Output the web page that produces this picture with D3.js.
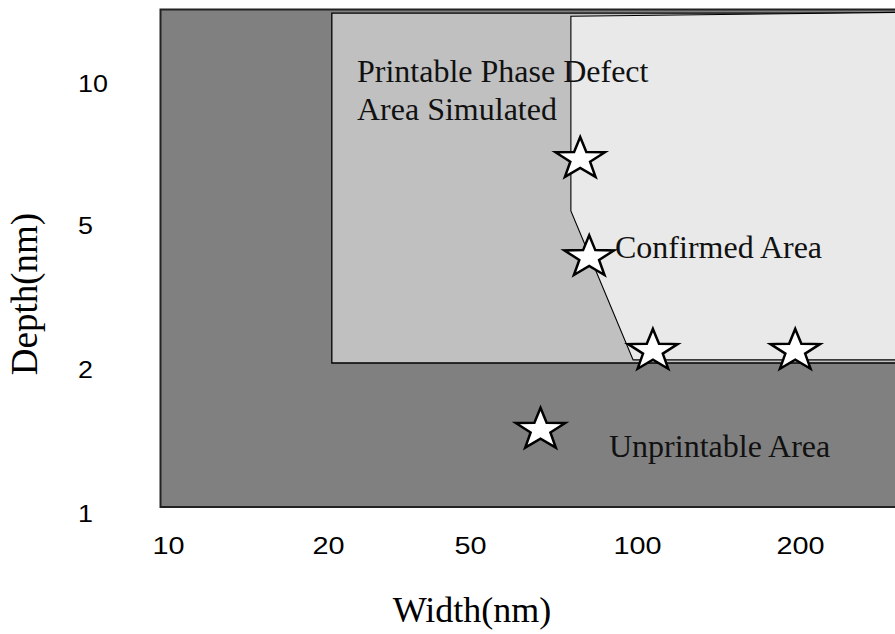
<!DOCTYPE html>
<html>
<head>
  <title>Printable Phase Defect Map</title>
  <script src="https://d3js.org/d3.v7.min.js"></script>
  <style>
    body { margin: 0; background: #fff; }
  </style>
</head>
<body>
  <svg id="chart" width="895" height="634"></svg>

  <script>
    // tick labels
    const widthTicks = [10, 20, 50, 100, 200];
    const depthTicks = [1, 2, 5, 10];

    // regions as [width nm, depth nm] corners
    const simulatedArea = [[20.5, 2.0], [400, 2.0], [400, 13.6], [20.5, 13.6]];
    const confirmedArea = [[76, 13.4], [400, 13.7], [400, 2.04], [98.4, 2.04], [76, 5.2]];

    // simulated defects (stars)
    const starWidth = [79, 82, 107, 196, 67];
    const starDepth = [6.7, 3.92, 2.16, 2.16, 1.45];

    const svg = d3.select("#chart");

    // labels are spaced evenly, so piecewise log scales
    const x = d3.scaleLog()
      .domain([10, 20, 50, 100, 200, 400])
      .range([168, 328, 470, 637, 800, 963]);
    const y = d3.scaleLog()
      .domain([1, 2, 5, 10, 20])
      .range([507, 363, 219, 77, -67]);

    // plot background
    svg.append("rect")
      .attr("x", 160.5).attr("y", 9.5)
      .attr("width", 760).attr("height", 497.5)
      .attr("fill", "#808080")
      .attr("stroke", "#222")
      .attr("stroke-width", 2);

    const line = d3.line().x(d => x(d[0])).y(d => y(d[1]));

    svg.append("path")
      .attr("d", line(simulatedArea) + "Z")
      .attr("fill", "#c0c0c0")
      .attr("stroke", "#000")
      .attr("stroke-width", 1.3);

    svg.append("path")
      .attr("d", line(confirmedArea) + "Z")
      .attr("fill", "#e9e9e9")
      .attr("stroke", "#000")
      .attr("stroke-width", 1.1);

    // annotations
    const notes = svg.append("g")
      .attr("font-family", "'Liberation Serif', 'Times New Roman', serif")
      .attr("font-size", 32)
      .attr("fill", "#111");
    notes.append("text").attr("x", 357).attr("y", 82).text("Printable Phase Defect");
    notes.append("text").attr("x", 357).attr("y", 120).text("Area Simulated");
    notes.append("text").attr("x", 615).attr("y", 258).text("Confirmed Area");
    notes.append("text").attr("x", 609).attr("y", 457).text("Unprintable Area");

    // stars
    function starPath(rx, ry) {
      const pts = [];
      for (let i = 0; i < 10; i++) {
        const a = -Math.PI / 2 + i * Math.PI / 5;
        const r = i % 2 === 0 ? 1 : 0.4;
        pts.push([Math.cos(a) * rx * r, Math.sin(a) * ry * r]);
      }
      return "M" + pts.map(p => p.join(",")).join("L") + "Z";
    }

    svg.append("g").selectAll("path")
      .data(starWidth)
      .join("path")
      .attr("transform", (d, i) => `translate(${x(d)},${y(starDepth[i])})`)
      .attr("d", starPath(26, 22))
      .attr("fill", "#fff")
      .attr("stroke", "#000")
      .attr("stroke-width", 2.5)
      .attr("stroke-linejoin", "miter");

    // axes
    const xAxis = svg.append("g")
      .attr("transform", "translate(0,554)")
      .call(d3.axisBottom(x).tickValues(widthTicks).tickSize(0).tickFormat(d3.format("d")));
    xAxis.select(".domain").remove();
    xAxis.selectAll("text")
      .attr("y", 0).attr("dy", 0)
      .attr("font-family", "'Liberation Sans', Arial, sans-serif")
      .attr("font-size", 24)
      .attr("fill", "#000")
      .attr("transform", "scale(1.2,1)");

    const yAxis = svg.append("g")
      .attr("transform", "translate(78,0)")
      .call(d3.axisLeft(y).tickValues(depthTicks).tickSize(0).tickFormat(d3.format("d")));
    yAxis.select(".domain").remove();
    yAxis.selectAll("text")
      .attr("x", 0).attr("y", 14).attr("dy", 0)
      .attr("text-anchor", "start")
      .attr("font-family", "'Liberation Sans', Arial, sans-serif")
      .attr("font-size", 24)
      .attr("fill", "#000")
      .attr("transform", "scale(1.12,1)");

    // axis titles
    svg.append("text")
      .attr("x", 472).attr("y", 622)
      .attr("text-anchor", "middle")
      .attr("font-family", "'Liberation Serif', 'Times New Roman', serif")
      .attr("font-size", 36)
      .text("Width(nm)");

    svg.append("text")
      .attr("transform", "translate(37,294) rotate(-90)")
      .attr("text-anchor", "middle")
      .attr("font-family", "'Liberation Serif', 'Times New Roman', serif")
      .attr("font-size", 37)
      .text("Depth(nm)");
  </script>
</body>
</html>
